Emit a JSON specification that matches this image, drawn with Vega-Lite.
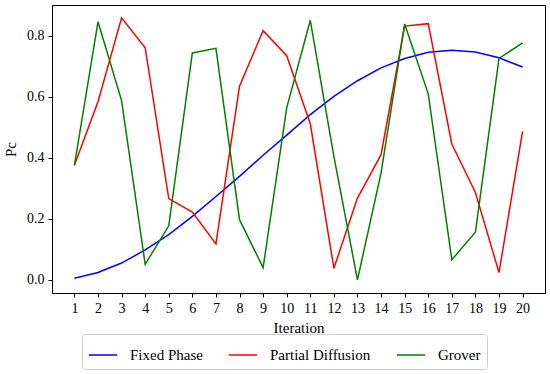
{
  "$schema": "https://vega.github.io/schema/vega-lite/v6.json",
  "width": 493,
  "height": 288,
  "autosize": {"type": "none"},
  "padding": {"left": 52, "top": 5, "right": 5, "bottom": 81},
  "config": {
    "font": "Liberation Serif",
    "view": {"stroke": "black", "strokeWidth": 1},
    "axis": {"labelFont": "Liberation Serif", "titleFont": "Liberation Serif", "labelFontSize": 14, "titleFontSize": 15, "titleFontWeight": "normal", "labelColor": "black", "titleColor": "black", "tickColor": "black", "domainColor": "black", "tickSize": 4, "grid": false},
    "legend": {"labelFont": "Liberation Serif", "labelFontSize": 15, "labelColor": "black"}
  },
  "data": {"values": [
    {"it":1,"s":"Fixed Phase","v":0.005},{"it":2,"s":"Fixed Phase","v":0.024},{"it":3,"s":"Fixed Phase","v":0.055},{"it":4,"s":"Fixed Phase","v":0.098},{"it":5,"s":"Fixed Phase","v":0.148},{"it":6,"s":"Fixed Phase","v":0.208},{"it":7,"s":"Fixed Phase","v":0.273},{"it":8,"s":"Fixed Phase","v":0.339},{"it":9,"s":"Fixed Phase","v":0.408},{"it":10,"s":"Fixed Phase","v":0.474},{"it":11,"s":"Fixed Phase","v":0.541},{"it":12,"s":"Fixed Phase","v":0.601},{"it":13,"s":"Fixed Phase","v":0.652},{"it":14,"s":"Fixed Phase","v":0.694},{"it":15,"s":"Fixed Phase","v":0.725},{"it":16,"s":"Fixed Phase","v":0.745},{"it":17,"s":"Fixed Phase","v":0.752},{"it":18,"s":"Fixed Phase","v":0.746},{"it":19,"s":"Fixed Phase","v":0.727},{"it":20,"s":"Fixed Phase","v":0.697},
    {"it":1,"s":"Partial Diffusion","v":0.375},{"it":2,"s":"Partial Diffusion","v":0.583},{"it":3,"s":"Partial Diffusion","v":0.858},{"it":4,"s":"Partial Diffusion","v":0.760},{"it":5,"s":"Partial Diffusion","v":0.266},{"it":6,"s":"Partial Diffusion","v":0.222},{"it":7,"s":"Partial Diffusion","v":0.118},{"it":8,"s":"Partial Diffusion","v":0.634},{"it":9,"s":"Partial Diffusion","v":0.816},{"it":10,"s":"Partial Diffusion","v":0.734},{"it":11,"s":"Partial Diffusion","v":0.511},{"it":12,"s":"Partial Diffusion","v":0.038},{"it":13,"s":"Partial Diffusion","v":0.268},{"it":14,"s":"Partial Diffusion","v":0.410},{"it":15,"s":"Partial Diffusion","v":0.831},{"it":16,"s":"Partial Diffusion","v":0.839},{"it":17,"s":"Partial Diffusion","v":0.445},{"it":18,"s":"Partial Diffusion","v":0.286},{"it":19,"s":"Partial Diffusion","v":0.024},{"it":20,"s":"Partial Diffusion","v":0.486},
    {"it":1,"s":"Grover","v":0.375},{"it":2,"s":"Grover","v":0.845},{"it":3,"s":"Grover","v":0.587},{"it":4,"s":"Grover","v":0.051},{"it":5,"s":"Grover","v":0.177},{"it":6,"s":"Grover","v":0.743},{"it":7,"s":"Grover","v":0.758},{"it":8,"s":"Grover","v":0.197},{"it":9,"s":"Grover","v":0.040},{"it":10,"s":"Grover","v":0.563},{"it":11,"s":"Grover","v":0.850},{"it":12,"s":"Grover","v":0.404},{"it":13,"s":"Grover","v":0.0},{"it":14,"s":"Grover","v":0.350},{"it":15,"s":"Grover","v":0.838},{"it":16,"s":"Grover","v":0.609},{"it":17,"s":"Grover","v":0.066},{"it":18,"s":"Grover","v":0.156},{"it":19,"s":"Grover","v":0.725},{"it":20,"s":"Grover","v":0.776}
  ]},
  "mark": {"type": "line", "strokeWidth": 1.5},
  "encoding": {
    "x": {"field": "it", "type": "quantitative", "title": "Iteration",
      "scale": {"domain": [0.05, 20.95], "nice": false, "zero": false},
      "axis": {"values": [1,2,3,4,5,6,7,8,9,10,11,12,13,14,15,16,17,18,19,20], "format": "d", "labelPadding": 4, "titlePadding": 5}},
    "y": {"field": "v", "type": "quantitative", "title": "Pc",
      "scale": {"domain": [-0.043, 0.9], "nice": false, "zero": false},
      "axis": {"values": [0, 0.2, 0.4, 0.6, 0.8], "format": ".1f", "labelPadding": 4, "titlePadding": 8}},
    "color": {"field": "s", "type": "nominal", "title": null,
      "sort": ["Fixed Phase", "Partial Diffusion", "Grover"],
      "scale": {"domain": ["Fixed Phase", "Partial Diffusion", "Grover"], "range": ["#0000ff", "#ff0000", "#008000"]},
      "legend": {"orient": "none", "legendX": 30, "legendY": 329, "direction": "horizontal", "columns": 3,
        "symbolType": "stroke", "symbolStrokeWidth": 1.5, "symbolSize": 900, "labelFontSize": 15, "labelFont": "Liberation Serif", "labelColor": "black", "labelOffset": 12,
        "strokeColor": "#cccccc", "padding": 6, "cornerRadius": 3, "columnPadding": 22, "symbolOffset": 0,
        "encode": {"labels": {"update": {"font": {"value": "Liberation Serif"}, "fontSize": {"value": 15}}}, "symbols": {"update": {"size": {"value": 800}}}}}}
  }
}
